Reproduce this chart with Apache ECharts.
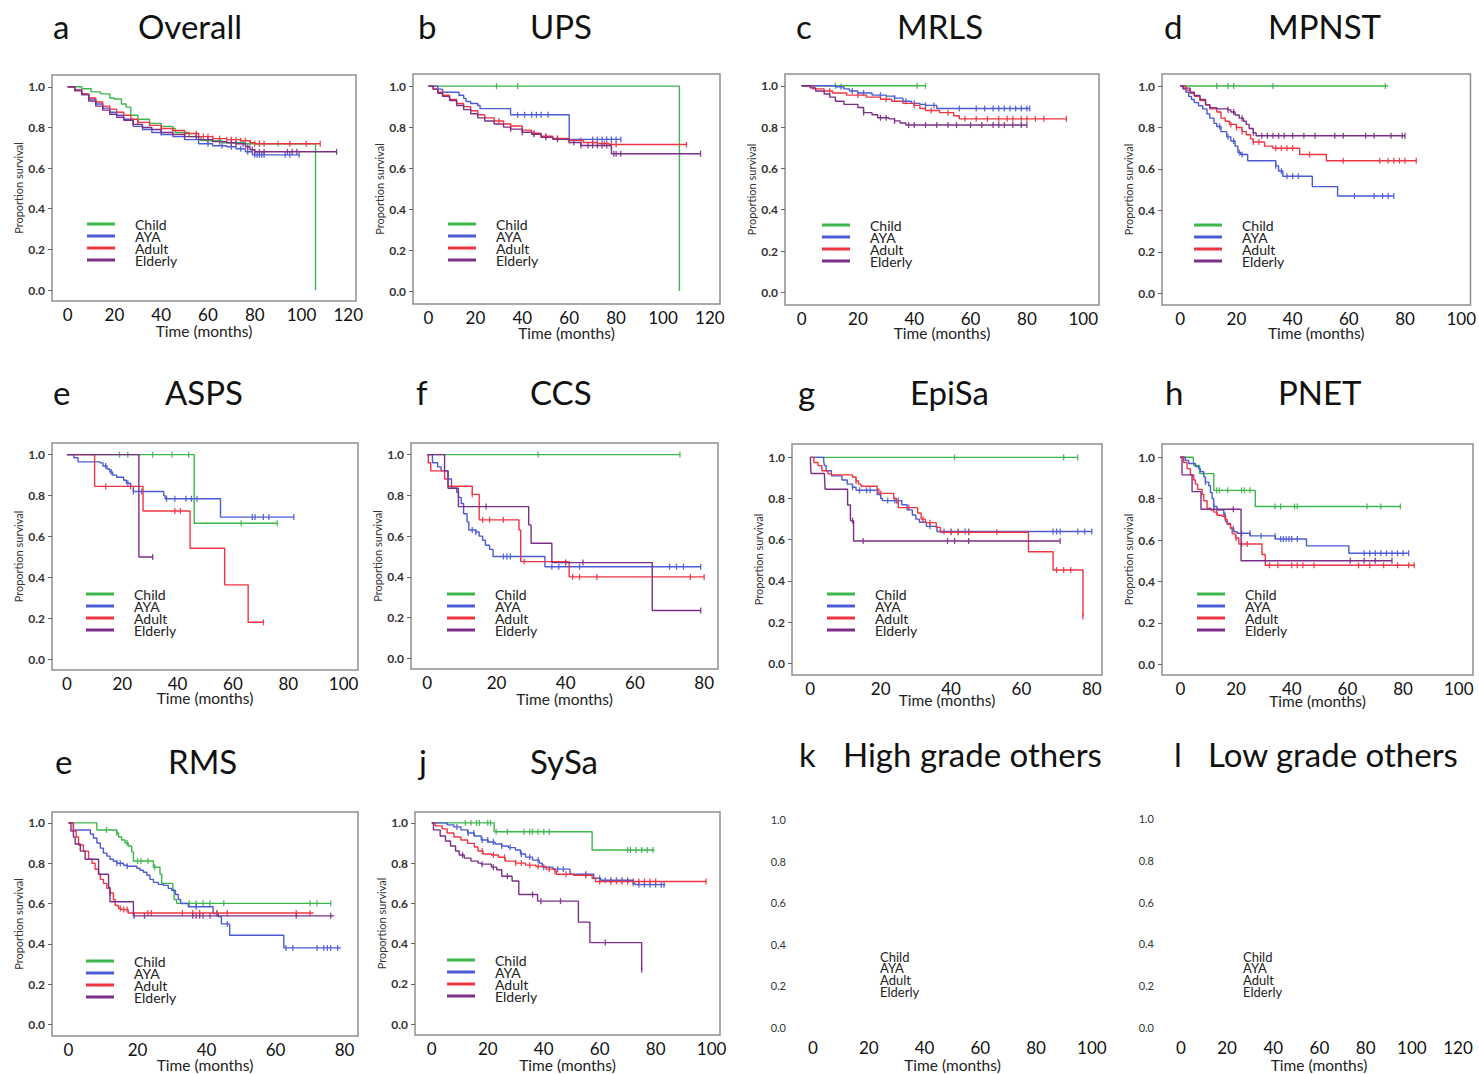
<!DOCTYPE html>
<html>
<head>
<meta charset="utf-8">
<title>Survival by age group</title>
<script src="https://cdn.jsdelivr.net/npm/echarts@6.0.0/dist/echarts.min.js"></script>
<style>
  html, body { margin: 0; padding: 0; background: #fff; }
  #chart { width: 1479px; height: 1074px; }
</style>
</head>
<body>
<div id="chart"></div>
<script>
const groups = ['Child', 'AYA', 'Adult', 'Elderly']
const groupColors = ['#3db64b', '#4a5bd5', '#ef3541', '#7c2f88']
const yTicks = [0, 0.2, 0.4, 0.6, 0.8, 1.0]
const xTicks80 = [0, 20, 40, 60, 80]
const xTicks100 = [0, 20, 40, 60, 80, 100]
const xTicks120 = [0, 20, 40, 60, 80, 100, 120]

// a  Overall  -- [month, proportion surviving from that month on]
const overallChild = [[0,1],[5,1],[6,0.99],[10,0.975],[14,0.965],[18,0.945],[20,0.94],[23,0.915],[25,0.9],[27,0.86],[30,0.84],[35,0.82],[40,0.805],[45,0.795],[46,0.775],[52,0.755],[57,0.735],[66,0.725],[76,0.72],[106,0.72],[106,0]]
const overallAYA = [[0,1],[3,0.985],[6,0.965],[9,0.94],[12,0.915],[15,0.895],[18,0.875],[21,0.86],[24,0.84],[28,0.805],[32,0.79],[36,0.775],[40,0.765],[45,0.755],[50,0.74],[56,0.72],[62,0.71],[68,0.705],[72,0.695],[76,0.68],[79,0.665],[99,0.665]]
const overallAdult = [[0,1],[3,0.985],[6,0.965],[9,0.945],[12,0.925],[15,0.905],[18,0.89],[21,0.875],[24,0.86],[27,0.84],[30,0.825],[35,0.81],[40,0.795],[45,0.785],[50,0.77],[56,0.755],[62,0.745],[68,0.74],[74,0.735],[78,0.725],[80,0.72],[108,0.72]]
const overallElderly = [[0,1],[3,0.98],[6,0.96],[9,0.93],[12,0.905],[15,0.885],[18,0.865],[21,0.85],[24,0.835],[28,0.815],[32,0.8],[36,0.79],[40,0.775],[45,0.765],[50,0.755],[56,0.74],[62,0.73],[68,0.725],[72,0.72],[76,0.705],[78,0.69],[80,0.68],[115,0.68]]
const overallChildCens = [82, 90]
const overallAYACens = [60, 66, 70, 74, 77, 80, 81, 82, 83, 84, 93, 95, 99]
const overallAdultCens = [30, 40, 45, 50, 55, 58, 60, 62, 65, 68, 70, 72, 74, 76, 78, 80, 82, 84, 95, 102, 108]
const overallElderlyCens = [40, 50, 55, 60, 65, 70, 72, 75, 77, 79, 80, 82, 84, 94, 96, 98, 115]

// b  UPS
const upsChild = [[0,1],[107,1],[107,0]]
const upsAYA = [[0,1],[4,0.985],[6,0.97],[12,0.97],[13,0.955],[15,0.94],[16,0.925],[18,0.915],[21,0.905],[22,0.89],[34,0.89],[35,0.86],[59,0.86],[60,0.74],[82,0.74]]
const upsAdult = [[0,1],[2,0.985],[4,0.97],[6,0.955],[9,0.935],[12,0.915],[15,0.9],[18,0.88],[21,0.86],[24,0.845],[28,0.83],[32,0.815],[35,0.805],[40,0.785],[44,0.77],[48,0.755],[53,0.745],[60,0.735],[66,0.725],[72,0.72],[77,0.715],[110,0.715]]
const upsElderly = [[0,1],[2,0.985],[4,0.965],[6,0.95],[9,0.93],[12,0.905],[15,0.885],[18,0.865],[21,0.845],[24,0.83],[28,0.815],[32,0.8],[35,0.79],[40,0.775],[44,0.765],[48,0.75],[53,0.74],[60,0.725],[65,0.71],[77,0.71],[78,0.67],[116,0.67]]
const upsChildCens = [29, 38]
const upsAYACens = [38, 41, 44, 46, 48, 51, 70, 72, 74, 76, 78, 80, 82]
const upsAdultCens = [30, 35, 40, 45, 50, 55, 60, 65, 70, 75, 78, 80, 110]
const upsElderlyCens = [35, 40, 45, 50, 55, 62, 65, 68, 70, 72, 74, 76, 79, 80, 82, 116]

// c  MRLS
const mrlsChild = [[0,1],[44,1]]
const mrlsAYA = [[0,1],[8,1],[12,0.995],[15,0.985],[17,0.975],[20,0.965],[25,0.955],[30,0.95],[33,0.94],[36,0.925],[39,0.915],[42,0.91],[44,0.905],[48,0.89],[81,0.89]]
const mrlsAdult = [[0,1],[3,1],[4,0.985],[8,0.975],[11,0.965],[16,0.955],[23,0.945],[28,0.935],[32,0.925],[36,0.915],[40,0.905],[42,0.89],[44,0.88],[49,0.87],[54,0.855],[56,0.84],[94,0.84]]
const mrlsElderly = [[0,1],[3,0.99],[5,0.975],[8,0.96],[10,0.945],[12,0.925],[15,0.91],[20,0.895],[22,0.87],[25,0.86],[27,0.845],[31,0.84],[33,0.83],[35,0.82],[37,0.81],[80,0.81]]
const mrlsChildCens = [12, 41, 44]
const mrlsAYACens = [14, 18, 22, 28, 33, 37, 40, 44, 47, 56, 62, 65, 68, 70, 72, 74, 76, 78, 80, 81]
const mrlsAdultCens = [10, 20, 30, 40, 46, 52, 58, 62, 66, 70, 73, 75, 78, 80, 83, 86, 94]
const mrlsElderlyCens = [22, 28, 30, 33, 38, 40, 44, 48, 52, 55, 60, 64, 68, 70, 72, 75, 78, 80]

// d  MPNST
const mpnstChild = [[0,1],[74,1]]
const mpnstAYA = [[0,1],[1,0.985],[2,0.97],[3,0.95],[4,0.935],[5,0.92],[6.5,0.905],[8,0.89],[9.5,0.865],[10.5,0.845],[12,0.82],[13,0.805],[14.5,0.78],[16.5,0.755],[18,0.735],[19.5,0.71],[20.5,0.68],[21.5,0.67],[24,0.64],[33,0.64],[34,0.615],[35,0.59],[36.5,0.565],[46.5,0.565],[47,0.515],[55.5,0.515],[56,0.47],[76,0.47]]
const mpnstAdult = [[0,1],[2,0.98],[3.5,0.965],[5,0.95],[7,0.93],[9,0.91],[10.5,0.89],[13,0.875],[14.5,0.845],[16,0.83],[17.5,0.815],[20,0.8],[22,0.78],[23.5,0.765],[25,0.745],[26,0.73],[30,0.71],[33,0.7],[42,0.7],[42.5,0.67],[51.5,0.67],[52,0.64],[84,0.64]]
const mpnstElderly = [[0,1],[1,0.99],[3.5,0.97],[5,0.955],[7,0.935],[9,0.91],[10.5,0.895],[13,0.89],[17,0.885],[18,0.875],[19.5,0.86],[21,0.845],[22.5,0.83],[23.5,0.815],[24.5,0.795],[26,0.775],[27,0.76],[80,0.76]]
const mpnstChildCens = [13, 17, 19, 33, 73]
const mpnstAYACens = [14, 17, 19, 21, 22, 34, 36, 38, 40, 42, 62, 69, 72, 74, 76]
const mpnstAdultCens = [18, 20, 22, 26, 28, 34, 36, 38, 40, 46, 58, 71, 74, 76, 78, 80, 84]
const mpnstElderlyCens = [17, 19, 22, 26, 29, 31, 33, 35, 37, 40, 44, 48, 55, 58, 66, 69, 75, 79, 80]

// e  ASPS
const aspsChild = [[0,1],[45.5,1],[46,0.665],[76,0.665]]
const aspsAYA = [[0,1],[2.5,0.985],[4,0.965],[12,0.96],[13,0.945],[14.5,0.93],[15.5,0.915],[16.5,0.9],[18,0.89],[20.5,0.875],[21.5,0.86],[23,0.845],[24,0.82],[34,0.82],[35,0.8],[35.5,0.785],[55,0.785],[55.5,0.695],[82,0.695]]
const aspsAdult = [[0,1],[9.5,1],[10,0.845],[27,0.845],[27.5,0.725],[44,0.725],[44.5,0.543],[56.5,0.543],[57,0.364],[65,0.364],[65.5,0.181],[71,0.181]]
const aspsElderly = [[0,1],[26,1],[26,0.5],[31,0.5]]
const aspsChildCens = [19, 22, 31, 38, 44, 63, 76]
const aspsAYACens = [14, 16, 22, 24, 27, 36, 39, 43, 45, 47, 67, 68, 71, 73, 82]
const aspsAdultCens = [14, 23, 39, 41, 71]
const aspsElderlyCens = [31]

// f  CCS
const ccsChild = [[0,1],[73,1]]
const ccsAYA = [[0,1],[1.5,0.96],[3,0.94],[4,0.92],[6,0.88],[7,0.835],[8.5,0.815],[9,0.79],[9.8,0.76],[10.5,0.71],[11.5,0.67],[12,0.63],[14,0.62],[15,0.6],[16,0.58],[16.8,0.555],[18,0.535],[19,0.5],[33.5,0.5],[34,0.45],[79,0.45]]
const ccsAdult = [[0,1],[0.3,0.96],[1,0.92],[4.5,0.92],[5,0.88],[6,0.845],[12.5,0.845],[13,0.805],[14.5,0.805],[15,0.68],[26,0.68],[26.5,0.63],[27,0.475],[40.5,0.475],[41,0.4],[80,0.4]]
const ccsElderly = [[0,1],[4.5,1],[5,0.92],[6,0.835],[8.5,0.835],[9,0.745],[28.8,0.745],[29.3,0.655],[30,0.565],[35.6,0.565],[36,0.47],[64.5,0.47],[65,0.235],[79,0.235]]
const ccsChildCens = [32, 73]
const ccsAYACens = [13, 14, 22, 23, 24, 36, 38, 44, 70, 72, 74, 79]
const ccsAdultCens = [13, 16, 18, 22, 28, 42, 44, 49, 76, 80]
const ccsElderlyCens = [17, 40, 45, 79]

// g  EpiSa
const episaChild = [[0,1],[76,1]]
const episaAYA = [[0,1],[3,1],[3.8,0.985],[4,0.96],[4.5,0.935],[6,0.91],[8.5,0.91],[9,0.89],[10.5,0.87],[12,0.855],[13,0.84],[18.5,0.84],[19,0.82],[20,0.8],[20.5,0.79],[25.5,0.79],[26,0.77],[27.5,0.745],[29,0.72],[30,0.7],[31,0.685],[33,0.665],[36,0.64],[80,0.64]]
const episaAdult = [[0,1],[1,0.975],[2.2,0.96],[3.3,0.935],[5,0.92],[6,0.915],[11.5,0.915],[12,0.905],[13,0.885],[13.7,0.87],[14.4,0.86],[18.5,0.86],[19,0.845],[19.5,0.825],[23.2,0.825],[23.7,0.8],[24.5,0.78],[25,0.756],[30,0.756],[30.5,0.73],[31.5,0.7],[32.7,0.683],[35.2,0.683],[35.8,0.66],[37,0.636],[61,0.636],[62,0.542],[68,0.542],[69,0.453],[77.5,0.453],[77.5,0.227]]
const episaElderly = [[0,1],[0.2,0.922],[4,0.922],[4.2,0.845],[10.2,0.845],[10.6,0.769],[11.4,0.693],[12.3,0.594],[71,0.594]]
const episaChildCens = [41, 72, 76]
const episaAYACens = [12, 14, 16, 17, 22, 24, 25, 34, 38, 40, 42, 44, 45, 69, 70, 71, 76, 78, 80]
const episaAdultCens = [13, 20, 28, 32, 34, 40, 42, 45, 53, 70, 72, 74, 77.5]
const episaElderlyCens = [12, 15, 39, 41, 45, 71]

// h  PNET
const pnetChild = [[0,1],[4.6,1],[4.8,0.96],[6.6,0.96],[6.9,0.921],[11.7,0.921],[12,0.84],[26.6,0.84],[26.9,0.762],[79,0.762]]
const pnetAYA = [[0,1],[1.8,0.985],[3,0.97],[5.4,0.955],[6.6,0.945],[7.2,0.93],[8.4,0.905],[9,0.88],[10.2,0.862],[10.8,0.83],[11.4,0.8],[12,0.762],[13.2,0.745],[15.6,0.72],[16.2,0.69],[16.8,0.676],[18,0.655],[19.2,0.64],[20.4,0.633],[25.1,0.62],[34.1,0.605],[45.3,0.572],[60.5,0.536],[82,0.536]]
const pnetAdult = [[0,1],[1.2,0.975],[2.4,0.945],[3.6,0.915],[4.8,0.89],[5.4,0.87],[6.2,0.845],[7.8,0.82],[8.4,0.79],[9.6,0.754],[10.8,0.745],[12,0.735],[13.2,0.72],[15,0.715],[16.2,0.7],[16.8,0.68],[18,0.66],[18.6,0.63],[19.8,0.61],[21,0.581],[29.3,0.53],[30.5,0.478],[84,0.478]]
const pnetElderly = [[0,1],[0.6,0.915],[4.2,0.834],[7.4,0.749],[21.8,0.5],[76,0.5]]
const pnetChildCens = [13, 14, 17, 22, 23, 25, 34, 36, 41, 42, 67, 72, 79]
const pnetAYACens = [9, 12, 16, 19, 22, 25, 29, 34, 36, 37, 38, 39, 40, 42, 66, 68, 70, 72, 74, 76, 78, 80, 82]
const pnetAdultCens = [13, 16, 20, 22, 24, 32, 35, 40, 42, 44, 48, 64, 68, 73, 78, 82, 84]
const pnetElderlyCens = [19, 61, 66, 70, 76]

// e  RMS
const rmsChild = [[0,1],[8.2,0.965],[14,0.95],[14.5,0.93],[15.4,0.915],[16.4,0.9],[17.3,0.885],[18.3,0.856],[18.8,0.811],[24.6,0.78],[26.5,0.745],[27,0.7],[30.2,0.67],[30.6,0.62],[31.3,0.601],[76,0.601]]
const rmsAYA = [[0,1],[1.4,0.965],[6.3,0.945],[7.2,0.925],[8.2,0.9],[9.2,0.875],[10.1,0.85],[11.1,0.835],[12,0.82],[13,0.81],[14,0.8],[15.9,0.79],[16.9,0.785],[19.8,0.775],[20.7,0.765],[21.7,0.755],[22.7,0.74],[23.6,0.72],[24.6,0.705],[26,0.695],[27.5,0.69],[28.9,0.675],[29.9,0.665],[31,0.645],[31.8,0.62],[32.5,0.6],[34.7,0.584],[41.9,0.55],[43.4,0.535],[44.3,0.499],[46.7,0.443],[62.4,0.38],[79,0.38]]
const rmsAdult = [[0,1],[1.4,0.96],[2.2,0.93],[2.9,0.89],[4.3,0.86],[5.8,0.82],[6.8,0.8],[7.7,0.77],[8.7,0.745],[9.2,0.72],[10.1,0.7],[11.1,0.675],[12,0.652],[13,0.62],[13.5,0.59],[14.5,0.575],[15.4,0.57],[17.3,0.553],[71,0.553]]
const rmsElderly = [[0,1],[0.7,0.96],[1.4,0.93],[1.9,0.895],[3.4,0.86],[4.8,0.82],[8.7,0.745],[11.6,0.68],[12,0.609],[18.8,0.539],[77,0.539]]
const rmsChildCens = [11, 14, 17, 20, 21, 23, 25, 35, 37, 39, 41, 45, 70, 72, 76]
const rmsAYACens = [14, 15, 17, 37, 43, 46, 63, 65, 72, 74, 75, 76, 78]
const rmsAdultCens = [12, 15, 16, 17, 23, 24, 33, 36, 38, 43, 46, 66, 70]
const rmsElderlyCens = [19, 22, 36, 37, 38, 39, 41, 66, 76]

// j  SySa
const sysaChild = [[0,1],[22.3,0.956],[57.3,0.865],[79.6,0.865]]
const sysaAYA = [[0,1],[5.5,0.99],[7.9,0.98],[10.4,0.965],[12.8,0.95],[15.2,0.935],[17.7,0.915],[20.1,0.905],[22.6,0.895],[25,0.885],[27.4,0.877],[29.9,0.865],[31.7,0.845],[33.5,0.83],[36,0.815],[38.4,0.8],[39.5,0.78],[43.3,0.77],[49.4,0.745],[57.9,0.725],[60.4,0.715],[72,0.7],[72.6,0.693],[83.5,0.693]]
const sysaAdult = [[0,1],[1.2,0.985],[3.7,0.97],[5.5,0.95],[7.9,0.93],[10.4,0.915],[12.8,0.898],[15.2,0.88],[16.5,0.86],[18.3,0.845],[21.3,0.84],[23.8,0.829],[26.2,0.81],[29.9,0.8],[33.5,0.79],[37.2,0.783],[40.9,0.77],[43.9,0.76],[44.5,0.745],[50.6,0.74],[57.3,0.725],[58.5,0.709],[98.2,0.709]]
const sysaElderly = [[0,1],[0.6,0.965],[3,0.935],[4.9,0.91],[6.7,0.885],[8.5,0.86],[9.8,0.84],[11.6,0.825],[14,0.81],[16.5,0.8],[17.7,0.795],[21.3,0.78],[23.2,0.767],[25,0.735],[28.7,0.711],[31.1,0.644],[37.8,0.611],[52.4,0.507],[56.5,0.405],[75,0.405],[75,0.27]]
const sysaChildCens = [12, 14, 16, 17, 20, 21, 23, 27, 33, 35, 36, 38, 40, 42, 70, 71, 73, 75, 77, 79]
const sysaAYACens = [9, 13, 15, 18, 20, 22, 25, 28, 32, 35, 38, 40, 45, 47, 55, 60, 62, 64, 66, 68, 70, 72, 74, 76, 78, 80, 82, 83]
const sysaAdultCens = [18, 22, 26, 30, 32, 35, 38, 42, 44, 48, 55, 60, 64, 66, 68, 70, 72, 74, 76, 78, 80, 98]
const sysaElderlyCens = [11, 18, 22, 27, 36, 39, 46, 62, 75]

const font = 'Lato, "Open Sans", sans-serif'

// layout of every panel: plot box in px, data range at the box edges
const panels = [
  {letter: 'a', name: 'Overall', lx: 53, nx: 138, ty: 27, box: [52, 75, 304, 226], xr: [-6.7, 123.3], yr: [-0.054, 1.058], ticks: xTicks120, gap: 22, leg: [87, 217],
   curves: [overallChild, overallAYA, overallAdult, overallElderly], cens: [overallChildCens, overallAYACens, overallAdultCens, overallElderlyCens]},
  {letter: 'b', name: 'UPS', lx: 418, nx: 530, ty: 27, box: [413, 74, 307, 230], xr: [-6.6, 124.3], yr: [-0.063, 1.059], ticks: xTicks120, gap: 21, leg: [448, 217],
   curves: [upsChild, upsAYA, upsAdult, upsElderly], cens: [upsChildCens, upsAYACens, upsAdultCens, upsElderlyCens]},
  {letter: 'c', name: 'MRLS', lx: 796, nx: 897, ty: 27, box: [785, 74, 314, 231], xr: [-5.9, 105.6], yr: [-0.061, 1.057], ticks: xTicks100, gap: 20, leg: [822, 218],
   curves: [mrlsChild, mrlsAYA, mrlsAdult, mrlsElderly], cens: [mrlsChildCens, mrlsAYACens, mrlsAdultCens, mrlsElderlyCens]},
  {letter: 'd', name: 'MPNST', lx: 1164, nx: 1268, ty: 27, box: [1162, 74, 311, 231], xr: [-6.5, 103.3], yr: [-0.056, 1.058], ticks: xTicks100, gap: 20, leg: [1194, 218],
   curves: [mpnstChild, mpnstAYA, mpnstAdult, mpnstElderly], cens: [mpnstChildCens, mpnstAYACens, mpnstAdultCens, mpnstElderlyCens]},
  {letter: 'e', name: 'ASPS', lx: 53, nx: 165, ty: 393, box: [52, 443, 306, 227], xr: [-5.4, 105.2], yr: [-0.052, 1.057], ticks: xTicks100, gap: 20, leg: [86, 587],
   curves: [aspsChild, aspsAYA, aspsAdult, aspsElderly], cens: [aspsChildCens, aspsAYACens, aspsAdultCens, aspsElderlyCens]},
  {letter: 'f', name: 'CCS', lx: 416, nx: 530, ty: 393, box: [411, 443, 307, 226], xr: [-4.7, 84.0], yr: [-0.052, 1.057], ticks: xTicks80, gap: 22, leg: [447, 587],
   curves: [ccsChild, ccsAYA, ccsAdult, ccsElderly], cens: [ccsChildCens, ccsAYACens, ccsAdultCens, ccsElderlyCens]},
  {letter: 'g', name: 'EpiSa', lx: 798, nx: 910, ty: 393, box: [792, 444, 310, 231], xr: [-5.2, 82.9], yr: [-0.057, 1.065], ticks: xTicks80, gap: 17, leg: [827, 587],
   curves: [episaChild, episaAYA, episaAdult, episaElderly], cens: [episaChildCens, episaAYACens, episaAdultCens, episaElderlyCens]},
  {letter: 'h', name: 'PNET', lx: 1165, nx: 1278, ty: 393, box: [1162, 444, 311, 231], xr: [-6.6, 105.1], yr: [-0.052, 1.064], ticks: xTicks100, gap: 18, leg: [1197, 587],
   curves: [pnetChild, pnetAYA, pnetAdult, pnetElderly], cens: [pnetChildCens, pnetAYACens, pnetAdultCens, pnetElderlyCens]},
  {letter: 'e', name: 'RMS', lx: 55, nx: 168, ty: 762, box: [52, 812, 306, 225], xr: [-4.8, 83.9], yr: [-0.057, 1.054], ticks: xTicks80, gap: 21, leg: [86, 954],
   curves: [rmsChild, rmsAYA, rmsAdult, rmsElderly], cens: [rmsChildCens, rmsAYACens, rmsAdultCens, rmsElderlyCens]},
  {letter: 'j', name: 'SySa', lx: 419, nx: 530, ty: 762, box: [415, 812, 305, 225], xr: [-6.0, 103], yr: [-0.054, 1.054], ticks: xTicks100, gap: 22, leg: [447, 953],
   curves: [sysaChild, sysaAYA, sysaAdult, sysaElderly], cens: [sysaChildCens, sysaAYACens, sysaAdultCens, sysaElderlyCens]},
  {letter: 'k', name: 'High grade others', lx: 799, nx: 843, ty: 755, box: [800, 810, 305, 220], xr: [-4.66, 104.7], yr: [-0.0096, 1.048], ticks: xTicks100, gap: 28, empty: true, textLeg: [880, 957]},
  {letter: 'l', name: 'Low grade others', lx: 1174, nx: 1208, ty: 755, box: [1168, 809, 302, 220], xr: [-5.6, 125.2], yr: [-0.0096, 1.048], ticks: xTicks120, gap: 28, empty: true, textLeg: [1243, 957]}
]

function survivalAt(steps, t) {
  var s = steps[0][1]
  for (var i = 0; i < steps.length; i++) {
    if (steps[i][0] <= t) s = steps[i][1]
  }
  return s
}

var titleStyle = {fontSize: 33, fontWeight: 'normal', color: '#111', fontFamily: font}
var option = {
  animation: false,
  backgroundColor: '#fff',
  title: [], grid: [], xAxis: [], yAxis: [], legend: [], series: [], graphic: []
}

panels.forEach(function (p, i) {
  option.title.push({text: p.letter, left: p.lx, top: p.ty - 18, padding: 0, textStyle: titleStyle})
  option.title.push({text: p.name, left: p.nx, top: p.ty - 18, padding: 0, textStyle: titleStyle})

  option.grid.push({
    left: p.box[0], top: p.box[1], width: p.box[2], height: p.box[3],
    show: !p.empty, borderColor: '#8e8e8e', borderWidth: 1.5, backgroundColor: 'transparent'
  })

  option.xAxis.push({
    type: 'value', gridIndex: i, min: p.xr[0], max: p.xr[1],
    axisLine: {show: false, onZero: false}, axisTick: {show: false}, splitLine: {show: false},
    axisLabel: {customValues: p.ticks, fontSize: 17, color: '#111', margin: p.empty ? 10 : 5, fontFamily: font},
    name: 'Time (months)', nameLocation: 'middle', nameGap: p.gap, nameMoveOverlap: false,
    nameTextStyle: {fontSize: 15.5, color: '#222', fontFamily: font}
  })

  option.yAxis.push({
    type: 'value', gridIndex: i, min: p.yr[0], max: p.yr[1],
    axisLine: {show: false, onZero: false}, splitLine: {show: false},
    axisTick: {show: !p.empty, customValues: yTicks, length: 4, lineStyle: {color: '#666'}},
    axisLabel: {
      customValues: yTicks, formatter: function (v) { return v.toFixed(1) },
      fontSize: p.empty ? 11 : 12, fontWeight: p.empty ? 'normal' : 'bold',
      color: '#333', margin: p.empty ? 14 : 7, fontFamily: font
    },
    name: p.empty ? '' : 'Proportion survival', nameLocation: 'middle', nameGap: 28, nameMoveOverlap: false,
    nameTextStyle: {fontSize: 11, color: '#333', fontFamily: font}
  })

  if (p.empty) {
    groups.forEach(function (g, k) {
      option.graphic.push({
        type: 'text', left: p.textLeg[0], top: p.textLeg[1] + k * 11.7 - 7,
        style: {text: g, fontSize: 13, fontFamily: font, fill: '#222'}
      })
    })
    return
  }

  option.legend.push({
    data: groups, orient: 'vertical', left: p.leg[0], top: p.leg[1], padding: 0,
    icon: 'rect', itemWidth: 28, itemHeight: 3, itemGap: -2, selectedMode: false,
    textStyle: {fontSize: 14, lineHeight: 12, color: '#222', fontFamily: font, padding: [0, 0, 0, 15]}
  })

  groups.forEach(function (g, k) {
    var steps = p.curves[k]
    option.series.push({
      name: g, type: 'line', xAxisIndex: i, yAxisIndex: i, data: steps,
      step: 'end', showSymbol: false, symbol: 'none', silent: true,
      lineStyle: {width: 1.4, color: groupColors[k]}, itemStyle: {color: groupColors[k]}
    })
    option.series.push({
      name: g + ' censored', type: 'scatter', xAxisIndex: i, yAxisIndex: i,
      data: p.cens[k].map(function (t) { return [t, survivalAt(steps, t)] }),
      symbol: 'rect', symbolSize: [1.3, 6], silent: true,
      itemStyle: {color: groupColors[k], opacity: 0.9}
    })
  })
})

var chart = echarts.init(document.getElementById('chart'), null, {renderer: 'svg'})
chart.setOption(option)
window.addEventListener('resize', chart.resize)
</script>
</body>
</html>
